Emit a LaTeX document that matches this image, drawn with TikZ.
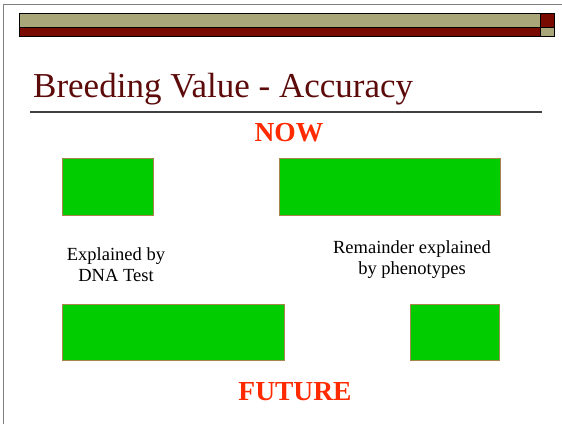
\documentclass[tikz,border=0pt]{standalone}
\usepackage{fontspec}
\setmainfont{Liberation Serif}
\begin{document}
\definecolor{khaki}{HTML}{A9A77A}
\definecolor{maroon}{HTML}{780A00}
\definecolor{titlered}{HTML}{5C0A0A}
\definecolor{hot}{HTML}{FF2A00}
\definecolor{bar}{HTML}{00CC00}
\definecolor{barline}{HTML}{A8844E}
\begin{tikzpicture}[x=1pt,y=-1pt,
  greenbar/.style={draw=barline,line width=0.8pt,fill=bar,anchor=north west,inner sep=0pt,outer sep=0pt},
  caption/.style={align=center,font=\fontsize{18.5}{21}\selectfont,text=black},
  heading/.style={font=\fontsize{27.5}{30}\selectfont\bfseries,text=hot}]
\useasboundingbox (0,0) rectangle (562,424);
% slide frame
\draw[gray,line width=1pt] (3,424) -- (3,4.5) -- (562,4.5);
% decorative header bars
\draw[fill=khaki,line width=0.6pt] (19,13.5) rectangle (540,27);
\draw[fill=maroon,line width=0.6pt] (19,27) rectangle (540,36);
\draw[fill=maroon,line width=0.6pt] (540,13.5) rectangle (554,27);
\draw[fill=khaki,line width=0.6pt] (540,27) rectangle (554,36);
% title and rule
\node[anchor=base west,inner sep=0pt,text=titlered,font=\fontsize{35}{38}\selectfont] (title) at (33,97) {Breeding Value - Accuracy};
\draw[darkgray,line width=1.2pt] (30,112) -- (541.5,112);
\node[heading] (now) at (289,133) {NOW};
% current split
\node[greenbar,minimum width=91pt,minimum height=57pt] (dnaNow) at (62,158) {};
\node[greenbar,minimum width=221pt,minimum height=57pt] (phenoNow) at (279,158) {};
% captions
\node[caption] (dnaText) at (116,265) {Explained by\\DNA Test};
\node[caption] (phenoText) at (412,260) {Remainder explained\\by phenotypes};
% future split
\node[greenbar,minimum width=222pt,minimum height=56pt] (dnaFut) at (62,304) {};
\node[greenbar,minimum width=89pt,minimum height=56pt] (phenoFut) at (410,304) {};
\node[heading] (future) at (295,392) {FUTURE};
\end{tikzpicture}
\end{document}
